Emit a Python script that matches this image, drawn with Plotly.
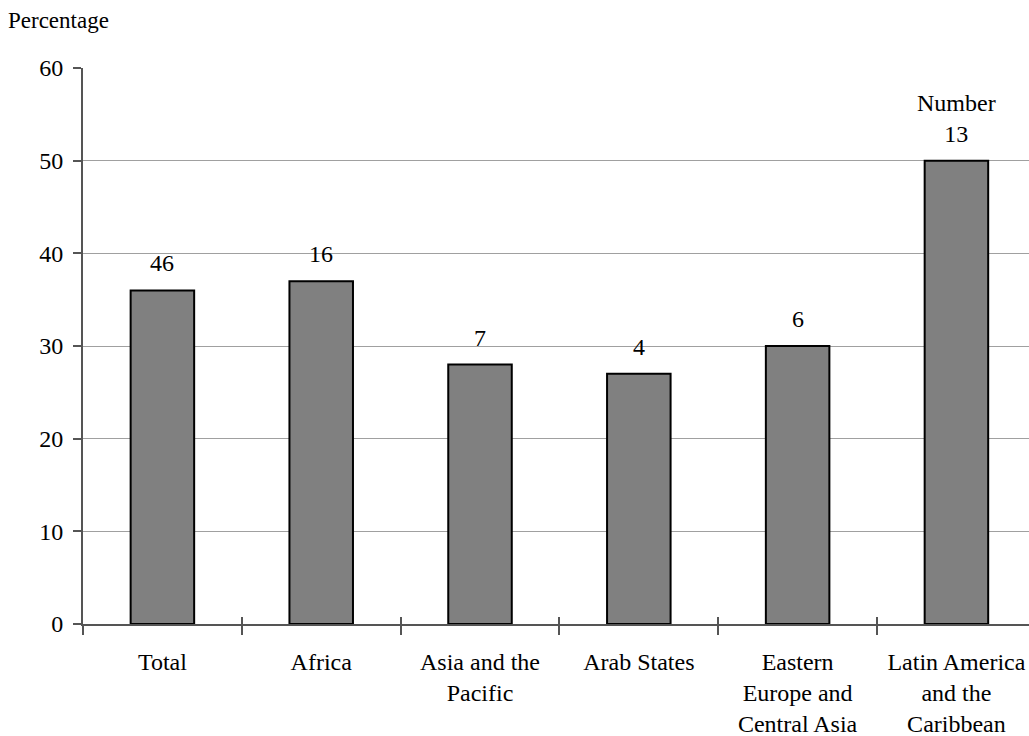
import plotly.graph_objects as go

categories = ["Total", "Africa", "Asia and the<br>Pacific", "Arab States",
              "Eastern<br>Europe and<br>Central Asia", "Latin America<br>and the<br>Caribbean"]
percentages = [36, 37, 28, 27, 30, 50]
counts = ["46", "16", "7", "4", "6", "Number<br>13"]
y_ticks = [0, 10, 20, 30, 40, 50, 60]

FONT = "Liberation Serif"
AXIS_COLOR = "#555555"
GRID_COLOR = "#a0a0a0"

fig = go.Figure()
fig.add_trace(go.Bar(
    x=categories, y=percentages,
    marker=dict(color="#808080", line=dict(color="black", width=2)),
    width=0.4, hoverinfo="skip", showlegend=False,
))
# helper trace for the overlay axis carrying the inner half of the boundary ticks
fig.add_trace(go.Scatter(x=categories, y=percentages, mode="none", xaxis="x2",
                         hoverinfo="skip", showlegend=False))

for c, v, t in zip(categories, percentages, counts):
    fig.add_annotation(x=c, y=v, text=t, showarrow=False, yanchor="bottom",
                       yshift=12, font=dict(family=FONT, size=24, color="black"))

fig.add_annotation(xref="paper", yref="paper", x=-0.081, y=1.086, xanchor="left",
                   yanchor="middle", text="Percentage", showarrow=False,
                   font=dict(family=FONT, size=23, color="black"))

xrange = [-0.5, 5.457]
fig.update_layout(
    width=1029, height=736,
    margin=dict(l=83, r=0, t=68, b=112, pad=0),
    plot_bgcolor="white", paper_bgcolor="white",
    font=dict(family=FONT, size=24, color="black"),
    xaxis=dict(type="category", range=xrange, tickson="boundaries",
               ticks="outside", ticklen=9, tickwidth=1.5, tickcolor=AXIS_COLOR,
               showline=True, linecolor=AXIS_COLOR, linewidth=2,
               showgrid=False, ticklabelstandoff=15,
               tickfont=dict(family=FONT, size=24, color="black")),
    xaxis2=dict(type="category", overlaying="x", matches="x", anchor="y",
                side="bottom", range=xrange, tickson="boundaries",
                ticks="inside", ticklen=7, tickwidth=1.5, tickcolor=AXIS_COLOR,
                showticklabels=False, showline=False, showgrid=False),
    yaxis=dict(range=[0, 60], tickvals=y_ticks, ticks="outside", ticklen=8,
               tickwidth=1.5, tickcolor=AXIS_COLOR, showline=True,
               linecolor=AXIS_COLOR, linewidth=2, showgrid=True,
               gridcolor=GRID_COLOR, gridwidth=1, zeroline=False,
               ticklabelstandoff=5,
               tickfont=dict(family=FONT, size=24, color="black")),
    bargap=0.6,
)

fig.write_html("out.html", config={"displayModeBar": False},
               post_script="document.body.style.margin='0';"
                           "document.body.style.overflow='hidden';")
